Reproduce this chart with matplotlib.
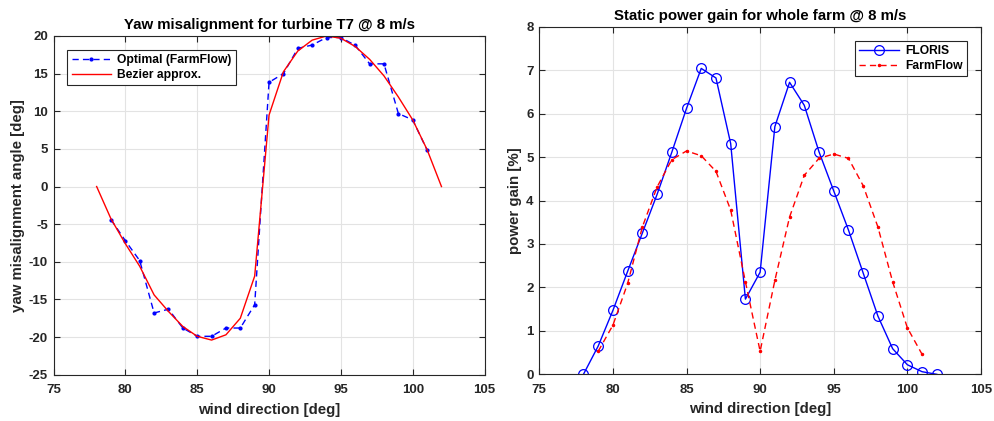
import matplotlib
matplotlib.use("Agg")
import matplotlib.pyplot as plt
import numpy as np

plt.rcParams['font.family'] = ['Liberation Sans', 'DejaVu Sans']
plt.rcParams['axes.unicode_minus'] = False

# Left chart: yaw misalignment
opt_dir = list(range(79, 102))
opt_yaw = [-4.4, -7.2, -9.85, -16.8, -16.3, -18.8, -19.9, -19.9, -18.8, -18.8, -15.7,
           13.85, 15.0, 18.35, 18.8, 19.8, 19.8, 18.75, 16.3, 16.3, 9.7, 8.85, 4.85]
bez_dir = list(range(78, 103))
bez_yaw = [0.0, -4.3, -7.6, -10.6, -14.4, -16.6, -18.6, -19.9, -20.4, -19.7, -17.5, -11.9,
           9.5, 15.25, 18.0, 19.45, 20.0, 19.7, 18.6, 16.9, 14.7, 11.9, 8.85, 4.9, 0.0]

# Right chart: power gain
floris_dir = list(range(78, 103))
floris_gain = [0.0, 0.65, 1.47, 2.37, 3.25, 4.14, 5.11, 6.12, 7.04, 6.82, 5.31, 1.73, 2.35,
               5.70, 6.72, 6.19, 5.12, 4.22, 3.32, 2.33, 1.34, 0.59, 0.22, 0.06, 0.0]
ff_dir = list(range(79, 102))
ff_gain = [0.53, 1.13, 2.09, 3.39, 4.31, 4.94, 5.14, 5.03, 4.67, 3.78, 2.13, 0.53,
           2.16, 3.62, 4.58, 4.97, 5.07, 4.97, 4.34, 3.39, 2.13, 1.07, 0.46]

x_ticks = [75, 80, 85, 90, 95, 100, 105]
yaw_ticks = [-25, -20, -15, -10, -5, 0, 5, 10, 15, 20]
gain_ticks = [0, 1, 2, 3, 4, 5, 6, 7, 8]

fig = plt.figure(figsize=(9.95, 4.21), dpi=100)
axL = fig.add_axes([0.0538, 0.110, 0.4332, 0.8045])
axR = fig.add_axes([0.542, 0.1109, 0.4439, 0.8257])

axc = '#262626'
fs = 9.5
lfs = 10.8

def style(ax, xt, yt):
    ax.grid(True, color='#e3e3e3', linewidth=0.8)
    ax.set_axisbelow(True)
    for s in ax.spines.values():
        s.set_color(axc)
        s.set_linewidth(0.8)
    ax.set_xticks(xt)
    ax.set_yticks(yt)
    ax.set_xticklabels([str(v) for v in xt], fontweight='bold', fontsize=fs, color=axc)
    ax.set_yticklabels([str(v) for v in yt], fontweight='bold', fontsize=fs, color=axc)
    ax.tick_params(direction='in', length=4, width=0.8, color=axc,
                   top=True, right=True)
    ax.tick_params(axis='x', pad=7)
    ax.tick_params(axis='y', pad=4)

bl = '#0000ff'
rd = '#ff0000'
dash = (4.5, 3)

axL.plot(opt_dir, opt_yaw, color=bl, lw=1.0, dashes=dash, marker='.', markersize=4, label='Optimal (FarmFlow)')
axL.plot(bez_dir, bez_yaw, '-', color=rd, lw=1.0, label='Bezier approx.')
axL.set_xlim(75, 105)
axL.set_ylim(-25, 20)
style(axL, x_ticks, yaw_ticks)
axL.set_title('Yaw misalignment for turbine T7 @ 8 m/s', fontsize=lfs, fontweight='bold', pad=5)
axL.set_xlabel('wind direction [deg]', fontsize=lfs, fontweight='bold', color=axc, labelpad=4.5)
axL.set_ylabel('yaw misalignment angle [deg]', fontsize=lfs, fontweight='bold', color=axc, labelpad=3)
legL = axL.legend(loc='upper left', bbox_to_anchor=(0.032, 0.96), frameon=True,
                  fancybox=False, edgecolor=axc, framealpha=1, handlelength=3.3,
                  borderpad=0.35, labelspacing=0.25, handletextpad=0.5, borderaxespad=0,
                  prop={'weight': 'bold', 'size': 8.7})
legL.get_frame().set_linewidth(0.8)

axR.plot(floris_dir, floris_gain, '-', color=bl, lw=1.0, marker='o', markersize=7,
         markerfacecolor='none', markeredgecolor=bl, markeredgewidth=0.9, label='FLORIS')
axR.plot(ff_dir, ff_gain, color=rd, lw=1.0, dashes=dash, marker='.', markersize=3, label='FarmFlow')
axR.set_xlim(75, 105)
axR.set_ylim(0, 8)
style(axR, x_ticks, gain_ticks)
axR.set_title('Static power gain for whole farm @ 8 m/s', fontsize=lfs, fontweight='bold', pad=5)
axR.set_xlabel('wind direction [deg]', fontsize=lfs, fontweight='bold', color=axc, labelpad=4.5)
axR.set_ylabel('power gain [%]', fontsize=lfs, fontweight='bold', color=axc, labelpad=3)
legR = axR.legend(loc='upper right', bbox_to_anchor=(0.968, 0.96), frameon=True,
                  fancybox=False, edgecolor=axc, framealpha=1, handlelength=3.3,
                  borderpad=0.35, labelspacing=0.25, handletextpad=0.5, borderaxespad=0,
                  prop={'weight': 'bold', 'size': 8.7})
legR.get_frame().set_linewidth(0.8)

fig.savefig('out.png', dpi=100)
